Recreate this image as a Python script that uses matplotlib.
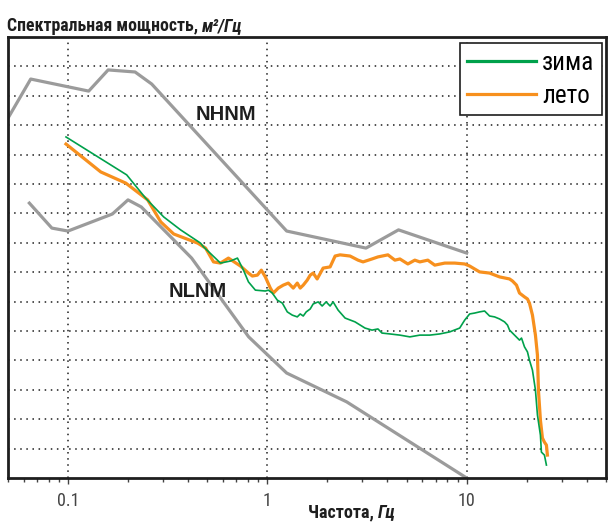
import numpy as np
import matplotlib
matplotlib.use("Agg")
import matplotlib.pyplot as plt
from matplotlib import font_manager
from matplotlib.lines import Line2D

# Peterson noise models (grey)
nhnm_f = [0.05, 0.065, 0.127, 0.159, 0.217, 0.263, 1.25, 3.125, 4.55, 10.0]
nhnm_y = [12.24, 13.57, 13.16, 13.88, 13.81, 13.40, 8.40, 7.82, 8.44, 7.65]

nlnm_f = [0.064, 0.083, 0.1, 0.167, 0.2, 0.233, 0.417, 0.806, 1.25, 2.5, 10.0]
nlnm_y = [9.35, 8.50, 8.40, 8.98, 9.46, 9.22, 7.48, 4.80, 3.57, 2.59, 0.0]

# winter spectrum (green)
winter_f = [0.0977, 0.197, 0.245, 0.302, 0.367, 0.462, 0.479, 0.582, 0.653, 0.708,
            0.759, 0.804, 0.871, 0.977, 1.012, 1.059, 1.122, 1.189, 1.259, 1.334,
            1.413, 1.462, 1.514, 1.567, 1.641, 1.698, 1.799, 1.884, 1.972, 2.065,
            2.138, 2.265, 2.455, 2.754, 3.090, 3.350, 3.589, 3.758, 4.121, 4.624,
            5.188, 5.821, 6.531, 7.328, 8.222, 9.226, 9.772, 10.35, 10.96, 11.61,
            12.30, 13.03, 13.80, 14.62, 15.49, 16.03, 16.41, 17.38, 18.41, 18.84,
            19.50, 20.18, 20.65, 21.38, 22.13, 22.65, 23.44, 23.71, 24.55, 25.12]
winter_y = [11.60, 10.31, 9.52, 8.88, 8.44, 7.99, 7.86, 7.31, 7.38, 7.48,
            7.07, 6.67, 6.39, 6.36, 6.39, 6.29, 6.05, 5.95, 5.65, 5.54,
            5.48, 5.58, 5.51, 5.65, 5.75, 5.92, 5.99, 5.85, 5.99, 5.85,
            5.99, 5.71, 5.44, 5.31, 5.10, 5.03, 5.07, 4.93, 4.90, 4.86,
            4.80, 4.86, 4.86, 4.90, 4.97, 5.10, 5.37, 5.58, 5.61, 5.65,
            5.68, 5.51, 5.48, 5.41, 5.31, 5.20, 5.03, 4.86, 4.69, 4.76,
            4.46, 4.29, 4.01, 3.67, 2.99, 2.14, 1.46, 0.88, 0.78, 0.44]

# summer spectrum (orange)
summer_f = [0.0977, 0.146, 0.195, 0.251, 0.292, 0.339, 0.447, 0.490, 0.537, 0.582,
            0.638, 0.733, 0.804, 0.841, 0.891, 0.933, 0.977, 1.035, 1.072, 1.135,
            1.202, 1.274, 1.349, 1.413, 1.462, 1.514, 1.585, 1.641, 1.698, 1.778,
            1.905, 2.065, 2.188, 2.317, 2.600, 2.851, 3.020, 3.350, 3.589, 4.027,
            4.365, 4.624, 5.070, 5.495, 5.821, 6.383, 6.918, 7.762, 8.710, 9.772,
            10.35, 11.61, 13.03, 14.62, 16.41, 16.98, 17.78, 18.41, 19.50, 20.18,
            20.65, 21.38, 22.13, 22.65, 22.91, 23.44, 23.99, 24.55, 25.12, 25.41]
summer_y = [11.36, 10.41, 10.03, 9.46, 8.71, 8.30, 7.99, 7.82, 7.35, 7.31,
            7.48, 7.21, 6.97, 6.87, 6.90, 7.07, 6.84, 6.46, 6.29, 6.46,
            6.56, 6.63, 6.46, 6.63, 6.46, 6.56, 6.73, 6.90, 6.97, 6.77,
            7.14, 7.18, 7.55, 7.59, 7.55, 7.41, 7.35, 7.45, 7.52, 7.59,
            7.41, 7.45, 7.28, 7.41, 7.35, 7.41, 7.24, 7.31, 7.31, 7.28,
            7.21, 7.01, 6.97, 6.84, 6.77, 6.70, 6.56, 6.29, 6.16, 6.09,
            5.95, 5.54, 4.86, 4.18, 2.99, 1.97, 1.36, 1.22, 1.12, 0.78]

xticks = [0.1, 1, 10]
xtick_labels = ['0.1', '1', '10']

# condensed font: use a narrow family if present, else DejaVu Sans Condensed
names = {f.name for f in font_manager.fontManager.ttflist}
cond = 'DejaVu Sans'
for cand in ['Roboto Condensed', 'Archivo Narrow', 'Liberation Sans Narrow']:
    if cand in names:
        cond = cand
        break
cf = dict(family=[cond, 'DejaVu Sans'], stretch='condensed')
wide = 'Liberation Sans'

green = '#00a14b'
orange = '#f7901e'
grey = '#9b9b9b'
dark = '#1e1e1e'

fig = plt.figure(figsize=(6.08, 5.23), dpi=100)
ax = fig.add_axes([8 / 608, 1 - 478 / 523, 598 / 608, 441 / 523])

ax.plot(nhnm_f, nhnm_y, color=grey, lw=2.3, zorder=2)
ax.plot(nlnm_f, nlnm_y, color=grey, lw=2.3, zorder=2)
ax.plot(summer_f, summer_y, color=orange, lw=2.3, zorder=3)
ax.plot(winter_f, winter_y, color=green, lw=1.2, zorder=4)

ax.set_xscale('log')
ax.set_xlim(0.05, 50)
ax.set_ylim(0, 15)
ax.set_yticks(range(1, 15))
ax.set_xticks(xticks, xtick_labels)
ax.tick_params(axis='y', left=False, labelleft=False)
ax.tick_params(axis='x', which='major', direction='out', length=4, width=1,
               color='#444444', pad=6, labelsize=13, labelcolor='#444444')
ax.tick_params(axis='x', which='minor', direction='out', length=3, width=1,
               color='#444444')
for lab in ax.get_xticklabels():
    lab.set_family(cf['family'])
    lab.set_stretch('condensed')
ax.grid(True, which='major', linestyle=(0, (1, 3)), color=dark, lw=1.1)
ax.set_axisbelow(True)
for sp in ax.spines.values():
    sp.set_linewidth(2.0)
    sp.set_color(dark)

ax.text(0.437, 12.18, 'NHNM', family=wide, weight='bold', fontsize=14.5,
        color=dark, ha='left', va='baseline')
ax.text(0.320, 6.16, 'NLNM', family=wide, weight='bold', fontsize=14.5,
        color=dark, ha='left', va='baseline')

handles = [Line2D([], [], color=green, lw=2.3), Line2D([], [], color=orange, lw=2.3)]
leg = ax.legend(handles, ['зима', 'лето'], loc='upper right',
                bbox_to_anchor=(0.993, 0.986), borderaxespad=0, fancybox=False,
                framealpha=1, edgecolor=dark, handlelength=2.75, handletextpad=0.25,
                labelspacing=0.36, borderpad=0.3,
                prop={'family': cf['family'], 'stretch': 'condensed', 'size': 18})
leg.get_frame().set_linewidth(1.2)

renderer = fig.canvas.get_renderer()

# title pieces
t1 = fig.text(7 / 608, 1 - 31 / 523, 'Спектральная мощность, ', weight='bold',
              fontsize=12.8, color=dark, ha='left', va='baseline', **cf)
bb = t1.get_window_extent(renderer)
fig.text(bb.x1 / 608, 1 - 31 / 523, 'м²/Гц', weight='bold', style='italic',
         fontsize=12.8, color=dark, ha='left', va='baseline', **cf)

# x label pieces
t2 = fig.text(308 / 608, 1 - 517 / 523, 'Частота, ', weight='bold',
              fontsize=13, color=dark, ha='left', va='baseline', **cf)
bb = t2.get_window_extent(renderer)
fig.text(bb.x1 / 608, 1 - 517 / 523, 'Гц', weight='bold', style='italic',
         fontsize=13, color=dark, ha='left', va='baseline', **cf)

fig.savefig('out.png', dpi=100)
